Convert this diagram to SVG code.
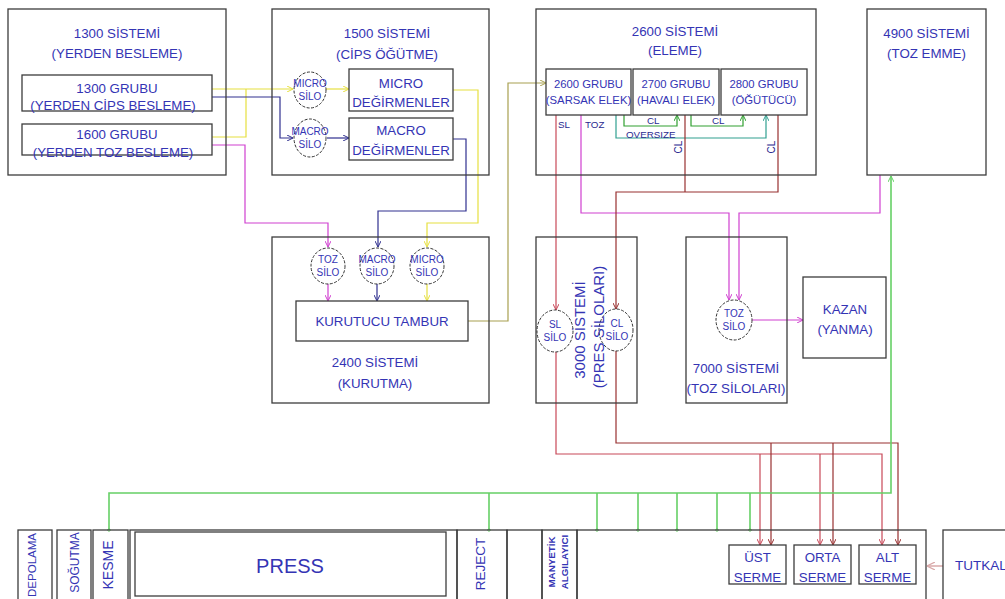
<svg xmlns="http://www.w3.org/2000/svg" width="1005" height="599" viewBox="0 0 1005 599">
<style>
text{font-family:"Liberation Sans",Arial,sans-serif;fill:#3434b4;text-anchor:middle}
.t{font-size:13.3px}
.g{font-size:11.3px}
.s{font-size:10px}
.l{font-size:9.8px;fill:#2a2a90;text-anchor:start}
.box{fill:none;stroke:#3c3c3c;stroke-width:1.3}
.wbox{fill:#fff;stroke:#3c3c3c;stroke-width:1.3}
.silo{fill:#fff;stroke:#333;stroke-width:1;stroke-dasharray:3 1.5}
.c{fill:none;stroke-width:1.2}
.y{stroke:#e6e040}.b{stroke:#30308f}.m{stroke:#d040d0}.o{stroke:#a8a050}
.gr{stroke:#30a030}.te{stroke:#30a090}.r{stroke:#c84858}.d{stroke:#983030}
.lg{stroke:#66d066;stroke-width:1.6}.tk{stroke:#d8a8a8;stroke-width:1.5}
</style>
<defs>
<marker id="ay" viewBox="0 0 6 6" refX="6" refY="3" markerWidth="6" markerHeight="6" orient="auto" markerUnits="userSpaceOnUse"><path d="M0,0 L6,3 L0,6" fill="none" stroke="#e6e040" stroke-width="1"/></marker>
<marker id="ab" viewBox="0 0 6 6" refX="6" refY="3" markerWidth="6" markerHeight="6" orient="auto" markerUnits="userSpaceOnUse"><path d="M0,0 L6,3 L0,6" fill="none" stroke="#30308f" stroke-width="1"/></marker>
<marker id="am" viewBox="0 0 6 6" refX="6" refY="3" markerWidth="6" markerHeight="6" orient="auto" markerUnits="userSpaceOnUse"><path d="M0,0 L6,3 L0,6" fill="none" stroke="#d040d0" stroke-width="1"/></marker>
<marker id="ao" viewBox="0 0 6 6" refX="6" refY="3" markerWidth="6" markerHeight="6" orient="auto" markerUnits="userSpaceOnUse"><path d="M0,0 L6,3 L0,6" fill="none" stroke="#a8a050" stroke-width="1"/></marker>
<marker id="ag" viewBox="0 0 6 6" refX="6" refY="3" markerWidth="6" markerHeight="6" orient="auto" markerUnits="userSpaceOnUse"><path d="M0,0 L6,3 L0,6" fill="none" stroke="#30a030" stroke-width="1"/></marker>
<marker id="at" viewBox="0 0 6 6" refX="6" refY="3" markerWidth="6" markerHeight="6" orient="auto" markerUnits="userSpaceOnUse"><path d="M0,0 L6,3 L0,6" fill="none" stroke="#30a090" stroke-width="1"/></marker>
<marker id="ar" viewBox="0 0 6 6" refX="6" refY="3" markerWidth="6" markerHeight="6" orient="auto" markerUnits="userSpaceOnUse"><path d="M0,0 L6,3 L0,6" fill="none" stroke="#c84858" stroke-width="1"/></marker>
<marker id="ad" viewBox="0 0 6 6" refX="6" refY="3" markerWidth="6" markerHeight="6" orient="auto" markerUnits="userSpaceOnUse"><path d="M0,0 L6,3 L0,6" fill="none" stroke="#983030" stroke-width="1"/></marker>
<marker id="alg" viewBox="0 0 6 6" refX="6" refY="3" markerWidth="6" markerHeight="6" orient="auto" markerUnits="userSpaceOnUse"><path d="M0,0 L6,3 L0,6" fill="none" stroke="#66d066" stroke-width="1"/></marker>
<marker id="dot" viewBox="0 0 4 4" refX="2" refY="2" markerWidth="4" markerHeight="4" markerUnits="userSpaceOnUse"><circle cx="2" cy="2" r="1.3" fill="none" stroke="#66d066" stroke-width="0.8"/></marker>
<marker id="atk" viewBox="0 0 8 8" refX="8" refY="4" markerWidth="8" markerHeight="8" orient="auto" markerUnits="userSpaceOnUse"><path d="M0,0 L8,4 L0,8" fill="none" stroke="#d8a8a8" stroke-width="1.2"/></marker>
</defs>
<rect width="1005" height="599" fill="#fff"/>

<g id="connectors">
<path class="c y" d="M212,89 H293" marker-end="url(#ay)"/>
<path class="c y" d="M212,137 H246 V89"/>
<path class="c y" d="M326,89 H349" marker-end="url(#ay)"/>
<path class="c y" d="M453,90 H478 V223 H427 V247" marker-end="url(#ay)"/>
<path class="c y" d="M427,284 V301" marker-end="url(#ay)"/>
<path class="c b" d="M212,97 H280 V138 H293" marker-end="url(#ab)"/>
<path class="c b" d="M327,138 H349" marker-end="url(#ab)"/>
<path class="c b" d="M453,139 H466 V211 H378 V247" marker-end="url(#ab)"/>
<path class="c b" d="M377,284 V301" marker-end="url(#ab)"/>
<path class="c m" d="M212,145 H245 V223 H328 V247" marker-end="url(#am)"/>
<path class="c m" d="M328,284 V301" marker-end="url(#am)"/>
<path class="c m" d="M581,115 V213 H729 V300" marker-end="url(#am)"/>
<path class="c m" d="M880,175 V213 H739 V300" marker-end="url(#am)"/>
<path class="c m" d="M752,320 H803" marker-end="url(#am)"/>
<path class="c o" d="M468,321 H508 V83 H546" marker-end="url(#ao)"/>
<path class="c gr" d="M624,115 V126 H677 V115" marker-end="url(#ag)"/>
<path class="c gr" d="M691,115 V126 H743 V115" marker-end="url(#ag)"/>
<path class="c te" d="M616,115 V138 H766 V115" marker-end="url(#at)"/>
<path class="c r" d="M556,115 V310" marker-end="url(#ar)"/>
<path class="c r" d="M556,352 V454 H882 V545" marker-end="url(#ar)"/>
<path class="c r" d="M760,454 V545" marker-end="url(#ar)"/>
<path class="c r" d="M820,454 V545" marker-end="url(#ar)"/>
<path class="c d" d="M685,115 V192"/>
<path class="c d" d="M778,115 V192 H616 V309" marker-end="url(#ad)"/>
<path class="c d" d="M616,351 V443 H898 V545" marker-end="url(#ad)"/>
<path class="c d" d="M771,443 V545" marker-end="url(#ad)"/>
<path class="c d" d="M833,443 V545" marker-end="url(#ad)"/>
<path class="c lg" d="M109,530 V493 H891 V176" marker-start="url(#dot)" marker-end="url(#alg)"/>
<path class="c lg" d="M489,493 V530" marker-end="url(#dot)"/>
<path class="c lg" d="M597,493 V530" marker-end="url(#dot)"/>
<path class="c lg" d="M638,493 V530" marker-end="url(#dot)"/>
<path class="c lg" d="M677,493 V530" marker-end="url(#dot)"/>
<path class="c lg" d="M717,493 V530" marker-end="url(#dot)"/>
<path class="c lg" d="M750,493 V530" marker-end="url(#dot)"/>
<path class="c tk" d="M943,566 H927" marker-end="url(#atk)"/>
</g>

<g id="sys1300">
<rect class="box" x="8" y="9" width="218" height="166"/>
<text class="t" x="117" y="38">1300 SİSTEMİ</text>
<text class="t" x="117" y="58">(YERDEN BESLEME)</text>
</g>
<g id="grp1300">
<rect class="box" x="22" y="75" width="190" height="36"/>
<text class="t" x="117" y="93">1300 GRUBU</text>
<text class="t" x="113" y="110">(YERDEN CİPS BESLEME)</text>
</g>
<g id="grp1600">
<rect class="box" x="22" y="124" width="190" height="31"/>
<text class="t" x="117" y="139">1600 GRUBU</text>
<text class="t" x="113" y="157">(YERDEN TOZ BESLEME)</text>
</g>

<g id="sys1500">
<rect class="box" x="272" y="9" width="217" height="166"/>
<text class="t" x="387" y="38">1500 SİSTEMİ</text>
<text class="t" x="387" y="59">(CİPS ÖĞÜTME)</text>
</g>
<g id="microSilo1">
<ellipse class="silo" cx="310" cy="90" rx="16" ry="18"/>
<text class="s" x="310" y="87">MICRO</text>
<text class="s" x="310" y="100">SİLO</text>
</g>
<g id="macroSilo1">
<ellipse class="silo" cx="310" cy="138" rx="16" ry="19"/>
<text class="s" x="310" y="135">MACRO</text>
<text class="s" x="310" y="148">SİLO</text>
</g>
<g id="microMill">
<rect class="box" x="349" y="69" width="104" height="42"/>
<text class="t" x="401" y="88">MICRO</text>
<text class="t" x="401" y="107">DEĞİRMENLER</text>
</g>
<g id="macroMill">
<rect class="box" x="349" y="118" width="104" height="42"/>
<text class="t" x="401" y="135">MACRO</text>
<text class="t" x="401" y="155">DEĞİRMENLER</text>
</g>

<g id="sys2600">
<rect class="box" x="536" y="9" width="280" height="166"/>
<text class="t" x="675" y="36">2600 SİSTEMİ</text>
<text class="t" x="675" y="55">(ELEME)</text>
<text class="l" x="558" y="128">SL</text>
<text class="l" x="585" y="128">TOZ</text>
<text class="l" x="647" y="124">CL</text>
<text class="l" x="712" y="124">CL</text>
<text class="l" x="626" y="138">OVERSIZE</text>
<text class="s" style="fill:#2a2a90" transform="translate(682,147) rotate(-90)">CL</text>
<text class="s" style="fill:#2a2a90" transform="translate(775,147) rotate(-90)">CL</text>
</g>
<g id="grp2600">
<rect class="box" x="546" y="69" width="85" height="46"/>
<text class="g" x="588.5" y="88">2600 GRUBU</text>
<text class="g" x="588.5" y="104">(SARSAK ELEK)</text>
</g>
<g id="grp2700">
<rect class="box" x="633" y="69" width="86" height="46"/>
<text class="g" x="676" y="88">2700 GRUBU</text>
<text class="g" x="676" y="104">(HAVALI ELEK)</text>
</g>
<g id="grp2800">
<rect class="box" x="721" y="69" width="86" height="46"/>
<text class="g" x="764" y="88">2800 GRUBU</text>
<text class="g" x="764" y="104">(ÖĞÜTÜCÜ)</text>
</g>

<g id="sys4900">
<rect class="box" x="867" y="9" width="119" height="166"/>
<text class="t" x="926.5" y="38">4900 SİSTEMİ</text>
<text class="t" x="926.5" y="58">(TOZ EMME)</text>
</g>

<g id="sys2400">
<rect class="box" x="272" y="237" width="217" height="166"/>
<text class="t" x="375" y="367">2400 SİSTEMİ</text>
<text class="t" x="375" y="388">(KURUTMA)</text>
</g>
<g id="tozSilo2">
<ellipse class="silo" cx="328" cy="266" rx="17" ry="18"/>
<text class="s" x="328" y="263">TOZ</text>
<text class="s" x="328" y="276">SİLO</text>
</g>
<g id="macroSilo2">
<ellipse class="silo" cx="377" cy="266" rx="17" ry="18"/>
<text class="s" x="377" y="263">MACRO</text>
<text class="s" x="377" y="276">SİLO</text>
</g>
<g id="microSilo2">
<ellipse class="silo" cx="427" cy="266" rx="17" ry="18"/>
<text class="s" x="427" y="263">MICRO</text>
<text class="s" x="427" y="276">SİLO</text>
</g>
<g id="tambur">
<rect class="box" x="296" y="301" width="172" height="40"/>
<text class="t" x="382" y="326">KURUTUCU TAMBUR</text>
</g>

<g id="sys3000">
<rect class="box" x="536" y="237" width="101" height="166"/>
<ellipse class="silo" cx="555" cy="331" rx="18" ry="21"/>
<text class="s" x="555" y="328">SL</text>
<text class="s" x="555" y="341">SİLO</text>
<ellipse class="silo" cx="616" cy="330" rx="17" ry="21"/>
<text class="s" x="617" y="327">CL</text>
<text class="s" x="617" y="340">SİLO</text>
<text style="font-size:15px" transform="translate(585,330) rotate(-90)">3000 SİSTEMİ</text>
<text style="font-size:15px" transform="translate(604,327) rotate(-90)">(PRES SİLOLARI)</text>
</g>

<g id="sys7000">
<rect class="box" x="686" y="237" width="101" height="166"/>
<ellipse class="silo" cx="734" cy="320" rx="18" ry="20"/>
<text class="s" x="734" y="317">TOZ</text>
<text class="s" x="734" y="330">SİLO</text>
<text class="t" x="736" y="373">7000 SİSTEMİ</text>
<text class="t" x="736" y="393">(TOZ SİLOLARI)</text>
</g>

<g id="kazan">
<rect class="box" x="803" y="277" width="83" height="81"/>
<text class="t" x="845" y="314">KAZAN</text>
<text class="t" x="845" y="334">(YANMA)</text>
</g>

<g id="depolama">
<rect class="box" x="18" y="530" width="34" height="75"/>
<text style="font-size:11.5px" transform="translate(35.5,565) rotate(-90)">DEPOLAMA</text>
</g>
<g id="sogutma">
<rect class="box" x="57" y="530" width="34" height="75"/>
<text style="font-size:12px" transform="translate(78.5,562.5) rotate(-90)">SOĞUTMA</text>
</g>
<g id="kesme">
<rect class="box" x="93" y="530" width="35" height="75"/>
<text style="font-size:14px" transform="translate(113,565) rotate(-90)">KESME</text>
</g>
<g id="press">
<rect class="box" x="130" y="530" width="327" height="75"/>
<rect class="box" x="135" y="532" width="311" height="64"/>
<text style="font-size:20px" x="290" y="573">PRESS</text>
</g>
<g id="reject">
<rect class="box" x="457" y="530" width="50" height="75"/>
<text style="font-size:13.5px" transform="translate(485,564) rotate(-90)">REJECT</text>
</g>
<g id="blank">
<rect class="box" x="507" y="530" width="35" height="75"/>
</g>
<g id="manyetik">
<rect class="box" x="542" y="530" width="35" height="75"/>
<text style="font-size:9.8px;font-weight:bold" transform="translate(555,562) rotate(-90)">MANYETİK</text>
<text style="font-size:9.8px;font-weight:bold" transform="translate(568,562) rotate(-90)">ALGILAYICI</text>
</g>
<g id="forming">
<rect class="box" x="577" y="530" width="349" height="75"/>
</g>
<g id="ust">
<rect class="wbox" x="729" y="545" width="57" height="39"/>
<text class="t" x="757.5" y="562">ÜST</text>
<text class="t" x="757.5" y="582">SERME</text>
</g>
<g id="orta">
<rect class="wbox" x="794" y="545" width="57" height="39"/>
<text class="t" x="822.5" y="562">ORTA</text>
<text class="t" x="822.5" y="582">SERME</text>
</g>
<g id="alt">
<rect class="wbox" x="859" y="545" width="57" height="39"/>
<text class="t" x="887.5" y="562">ALT</text>
<text class="t" x="887.5" y="582">SERME</text>
</g>
<g id="tutkal">
<rect class="box" x="943" y="530" width="70" height="75"/>
<text style="font-size:13.5px;text-anchor:start" x="955" y="570">TUTKAL</text>
</g>
</svg>
